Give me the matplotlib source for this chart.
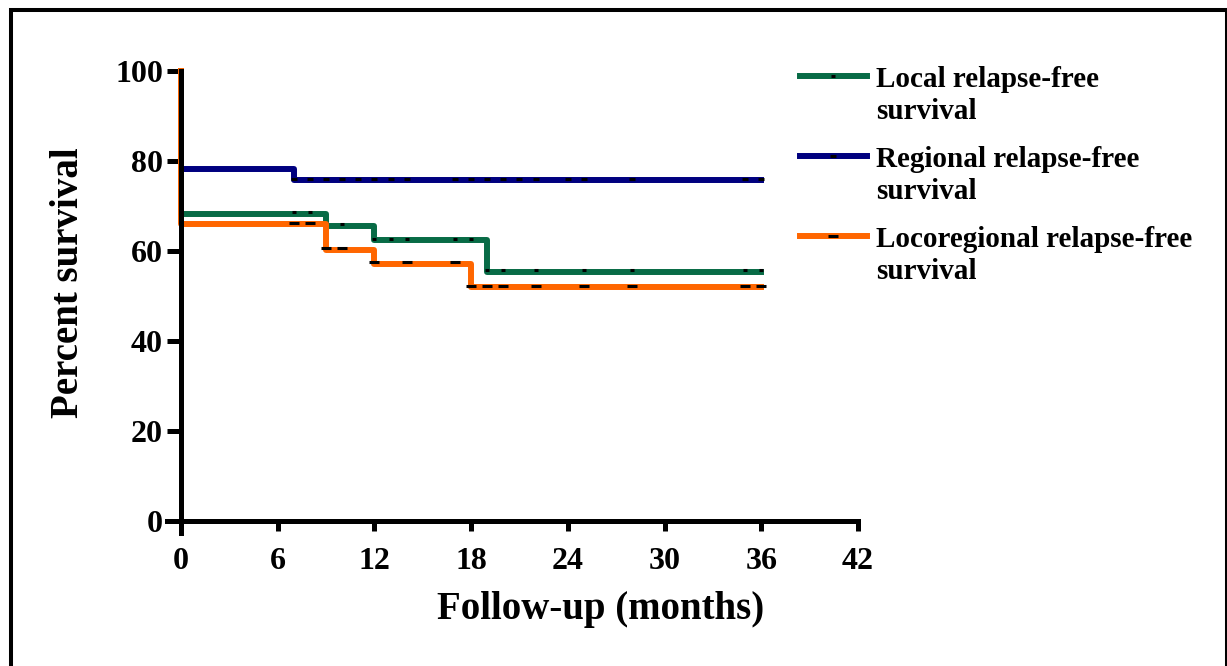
import numpy as np
import matplotlib
matplotlib.use("Agg")
import matplotlib.pyplot as plt
from matplotlib.lines import Line2D
from matplotlib.patches import Rectangle

plt.rcParams['font.family'] = ['Liberation Serif', 'DejaVu Serif']
plt.rcParams['font.weight'] = 'bold'

# Kaplan-Meier steps (months, percent)
local_t = [0, 0, 9, 12, 19, 36]
local_s = [100, 68.3, 65.6, 62.4, 55.4, 55.4]
regional_t = [0, 0, 7, 36]
regional_s = [100, 78.2, 75.7, 75.7]
locoreg_t = [0, 0, 9, 12, 18, 36]
locoreg_s = [100, 66.0, 60.3, 57.2, 52.0, 52.0]

# censored observations (months)
local_cens = [7, 8, 10, 12, 13, 14, 17, 18, 19, 20, 22, 25, 28, 35, 36]
regional_cens = [7, 8, 9, 10, 11, 12, 13, 14, 17, 18, 19, 20, 21, 22, 24, 25, 28, 35, 36]
locoreg_cens = [7, 8, 9, 10, 12, 14, 17, 18, 19, 20, 22, 25, 28, 35, 36]

labels = ['Local relapse-free\nsurvival',
          'Regional relapse-free\nsurvival',
          'Locoregional relapse-free\nsurvival']
colors = ['#086b46', '#00007f', '#ff6600']
xticks = [0, 6, 12, 18, 24, 30, 36, 42]
yticks = [0, 20, 40, 60, 80, 100]


def step_value(t, s, x):
    idx = np.searchsorted(t, x, side='right') - 1
    return np.array(s)[idx]


fig = plt.figure(figsize=(12.27, 6.66), dpi=100)
ax = fig.add_axes([0.1344, 0.1974, 0.5714, 0.7028])

series = [(regional_t, regional_s, regional_cens, colors[1], 5),
          (local_t, local_s, local_cens, colors[0], 3),
          (locoreg_t, locoreg_s, locoreg_cens, colors[2], 7)]
for t, s, cens, c, ms in series:
    ax.step(t, s, where='post', color=c, lw=4.3, clip_on=False, zorder=2,
            solid_joinstyle='round')
    ax.plot(cens, step_value(t, s, cens) + 0.3, ls='none', marker='_',
            ms=ms, mew=2.2, color='black', clip_on=False, zorder=3)

ax.set_xlim(-1, 42.5)
ax.set_ylim(-3, 101)
ax.set_xticks(xticks)
ax.set_yticks(yticks)

for side in ['top', 'right']:
    ax.spines[side].set_visible(False)
ax.spines['left'].set_position(('data', 0))
ax.spines['bottom'].set_position(('data', 0))
ax.spines['left'].set_bounds(-2.7, 100)
ax.spines['bottom'].set_bounds(-0.87, 42)
for side in ['left', 'bottom']:
    ax.spines[side].set_linewidth(3.6)
    ax.spines[side].set_zorder(4)

ax.tick_params(axis='y', direction='out', length=10, width=3.6, pad=3, labelsize=23)
ax.tick_params(axis='x', direction='out', length=7, width=3.6, pad=12, labelsize=23)

ax.set_xlabel('Follow-up (months)', fontsize=28, fontweight='bold')
ax.set_ylabel('Percent survival', fontsize=28, fontweight='bold')
ax.xaxis.label.set_va('center')
ax.yaxis.label.set_va('center')
ax.xaxis.set_label_coords(0.622, -0.161)
ax.yaxis.set_label_coords(-0.137, 0.537)

# legend drawn by hand so the handle sits on the first text line
W, H = 1227, 666
for i, (lab, c) in enumerate(zip(labels, colors)):
    yh = 75.7 + 80 * i
    fig.add_artist(Line2D([800 / W, 867 / W], [1 - yh / H, 1 - yh / H],
                          transform=fig.transFigure, color=c, lw=4.3))
    fig.add_artist(Line2D([833 / W], [1 - yh / H], transform=fig.transFigure,
                          marker='_', ms=[3, 5, 7][i], mew=2.2, color='black'))
    for j, line in enumerate(lab.split('\n')):
        fig.text(876 / W, 1 - (87 + 80 * i + 32 * j) / H, line, fontsize=21,
                 fontweight='bold', va='baseline', ha='left')

fig.add_artist(Rectangle((10.5 / W, -0.05), (1226.5 - 10.5) / W, 1.05 - 10.5 / H,
                         transform=fig.transFigure, fill=False, lw=2.9, color='black'))

fig.savefig('out.png', dpi=100)
